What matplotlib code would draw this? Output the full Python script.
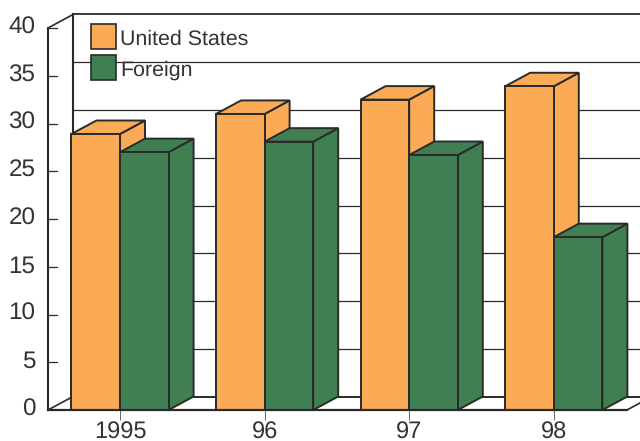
import matplotlib
matplotlib.use("Agg")
import matplotlib.pyplot as plt
from matplotlib.patches import Polygon, Rectangle
from matplotlib.transforms import ScaledTranslation

plt.rcParams["font.family"] = ["Liberation Sans", "DejaVu Sans"]
plt.rcParams["text.hinting"] = "no_hinting"

years = ["1995", "96", "97", "98"]
united_states = [28.9, 31.0, 32.5, 33.9]
foreign = [27.0, 28.1, 26.7, 18.1]
y_ticks = [0, 5, 10, 15, 20, 25, 30, 35, 40]

ORANGE = "#FBAB55"
GREEN = "#3F7F52"
INK = "#2A2A2A"
TEXT = "#333333"
W, H = 640, 441

fig = plt.figure(figsize=(W / 100, H / 100), dpi=100, facecolor="white")

# Axes box runs from the front-left corner of the floor to the right edge.
left, right, top, bottom = 48, 640, 28, 410
ax = fig.add_axes([left / W, 1 - bottom / H, (right - left) / W, (bottom - top) / H])
group_px = 144.6
ax.set_xlim((left - 120) / group_px, (right - 120) / group_px)
ax.set_ylim(0, 40)
ax.patch.set_visible(False)
for s in ax.spines.values():
    s.set_visible(False)

bar_w = 48.6 / group_px
dx = 25 / group_px      # oblique depth, horizontal
dy = 13.5 / 9.55        # oblique depth, vertical
x_left = ax.get_xlim()[0]
x_front_end = (627 - 120) / group_px
x_back_end = (652 - 120) / group_px


def line(xs, ys, lw=1.0, color=INK, z=1):
    ax.plot(xs, ys, color=color, lw=lw, solid_capstyle="projecting",
            clip_on=False, zorder=z)


# Back wall gridlines, side wall and floor
for v in y_ticks[1:]:
    line([x_left + dx, x_back_end], [v + dy, v + dy], lw=0.9 if v < 40 else 1.3)
    line([x_left, x_left + 9 / group_px], [v, v], lw=0.9)
line([x_left + dx, x_back_end], [dy, dy], lw=1.4)
line([x_left, x_left], [0, 40], lw=1.5, z=6)
line([x_left + dx, x_left + dx], [dy, 40 + dy], lw=1.5)
line([x_left, x_left + dx], [40, 40 + dy], lw=1.2)
line([x_left, x_left + dx], [0, dy], lw=1.2)
line([x_front_end, x_front_end + dx], [0, dy], lw=1.2)


def draw_bar(x0, value, color, z):
    ax.bar(x0, value, width=bar_w, align="edge", color=color, edgecolor=INK,
           linewidth=1.4, zorder=z + 0.2, clip_on=False)
    x1 = x0 + bar_w
    side = [(x1, 0), (x1 + dx, dy), (x1 + dx, value + dy), (x1, value)]
    roof = [(x0, value), (x0 + dx, value + dy), (x1 + dx, value + dy), (x1, value)]
    for pts in (side, roof):
        ax.add_patch(Polygon(pts, closed=True, facecolor=color, edgecolor=INK,
                             linewidth=1.4, joinstyle="miter", zorder=z, clip_on=False))


for i, (us, fo) in enumerate(zip(united_states, foreign)):
    draw_bar(i - bar_w, us, ORANGE, 3 + i * 2)
    draw_bar(i, fo, GREEN, 4 + i * 2)

# Floor front edge sits over the bar feet
line([x_left, x_front_end], [0, 0], lw=1.6, z=20)

ax.set_yticks(y_ticks)
ax.set_yticklabels([str(v) for v in y_ticks], fontsize=17.5, color=TEXT)
ax.set_xticks(range(len(years)))
ax.set_xticklabels(years, fontsize=17, color=TEXT)
ax.tick_params(axis="y", length=0, pad=9)
ax.tick_params(axis="x", length=7.5, width=0.7, color="#666666", pad=1)

# Y labels sit a little above their ticks
lift = ScaledTranslation(0, 3 / 100, fig.dpi_scale_trans)
for label in ax.get_yticklabels():
    label.set_transform(label.get_transform() + lift)

# Legend, placed in figure pixels
overlay = fig.add_axes([0, 0, 1, 1], zorder=30)
overlay.set_xlim(0, W)
overlay.set_ylim(H, 0)
overlay.axis("off")
for y, color, name in [(24, ORANGE, "United States"), (55, GREEN, "Foreign")]:
    overlay.add_patch(Rectangle((91, y), 25, 25, facecolor=color, edgecolor=INK, linewidth=1.2))
    overlay.text(120, y + 15.5, name, fontsize=15.4, color=TEXT, va="center", ha="left")

fig.savefig("out.png", dpi=100)
